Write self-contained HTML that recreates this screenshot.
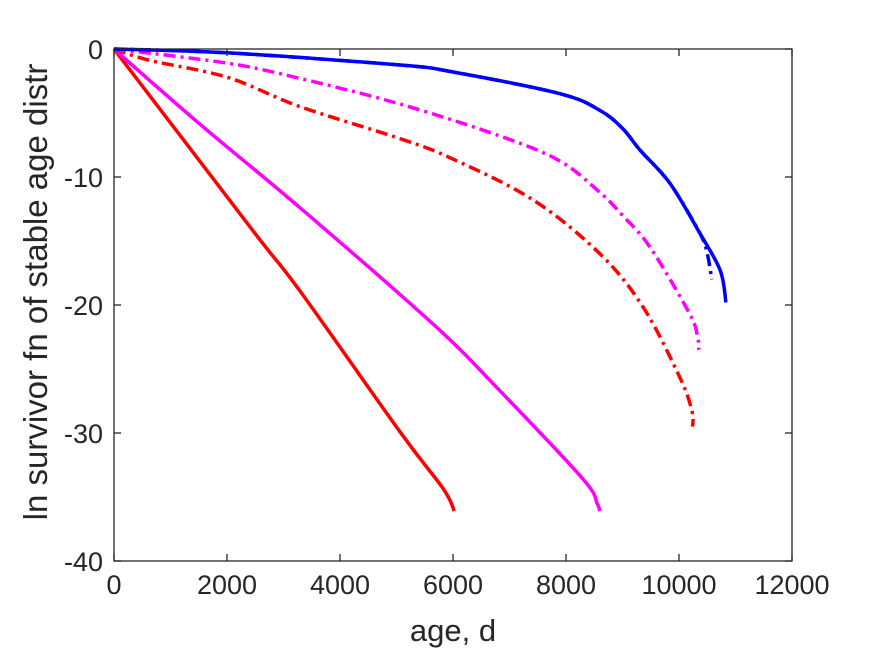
<!DOCTYPE html>
<html><head><meta charset="utf-8"><style>
body{margin:0;background:#fff;}
svg text{font-family:"Liberation Sans",Arial,sans-serif;fill:#262626;}
</style></head><body>
<svg id="chart" width="875" height="656" xmlns="http://www.w3.org/2000/svg">
<rect width="875" height="656" fill="#fff"/>
<g id="plot"></g>
<g id="axes"></g>
<text x="453" y="641" font-size="31" text-anchor="middle">age, d</text>
<text transform="translate(47,292) rotate(-90)" font-size="33" text-anchor="middle">ln survivor fn of stable age distr</text>
</svg>
<script>
const xTicks=[0,2000,4000,6000,8000,10000,12000];
const yTicks=[0,-10,-20,-30,-40];
const blueSolidX=[0,2000,5060,6000,7900,8600,9000,9310,9840,10370,10730,10830];
const blueSolidY=[0,-0.3,-1.25,-1.8,-3.5,-4.8,-6.2,-7.9,-10.5,-14.4,-17.3,-19.8];
const blueDashX=[0,2000,5060,6000,7900,8600,9000,9310,9840,10370,10500,10580];
const blueDashY=[0,-0.3,-1.25,-1.8,-3.5,-4.8,-6.2,-7.9,-10.5,-14.4,-16,-18];
const magDashX=[0,2000,3290,5060,6830,7890,8600,9000,9490,10190,10330,10350];
const magDashY=[0,-1.1,-2.3,-4.3,-6.8,-8.75,-11.2,-13,-15.5,-20.7,-22.5,-23.5];
const redDashX=[0,640,2000,3290,5060,6000,7420,8600,9370,10020,10230,10240];
const redDashY=[0,-0.9,-2.2,-4.5,-7.0,-8.6,-11.8,-16,-20.2,-25.7,-28.3,-29.5];
const magSolidX=[0,1500,3290,5650,6830,8300,8550,8600];
const magSolidY=[0,-5.8,-12.4,-21.5,-26.7,-33.6,-35.5,-36.1];
const redSolidX=[0,2460,3290,5060,5770,5950,6020];
const redSolidY=[0,-14.2,-18.9,-29.9,-34.0,-35.3,-36.1];

const L=114,R=792,T=49,B=561;
const sx=v=>L+(v-0)/12000*(R-L);
const sy=v=>T+(0-v)/40*(B-T);
const NS="http://www.w3.org/2000/svg";
const plot=document.getElementById('plot'),axes=document.getElementById('axes');
function mk(tag,attrs,parent){const e=document.createElementNS(NS,tag);for(const k in attrs)e.setAttribute(k,attrs[k]);parent.appendChild(e);return e;}
function smoothPath(xs,ys){
  const p=xs.map((x,i)=>[sx(x),sy(ys[i])]);
  let d='M'+p[0][0].toFixed(1)+','+p[0][1].toFixed(1);
  for(let i=0;i<p.length-1;i++){
    const p0=p[Math.max(0,i-1)],p1=p[i],p2=p[i+1],p3=p[Math.min(p.length-1,i+2)];
    const c1=[p1[0]+(p2[0]-p0[0])/6,p1[1]+(p2[1]-p0[1])/6];
    const c2=[p2[0]-(p3[0]-p1[0])/6,p2[1]-(p3[1]-p1[1])/6];
    d+=' C'+c1.map(v=>v.toFixed(1)).join(',')+' '+c2.map(v=>v.toFixed(1)).join(',')+' '+p2[0].toFixed(1)+','+p2[1].toFixed(1);
  }
  return d;
}
function series(xs,ys,color,dash,name){
  const p=mk('path',{d:smoothPath(xs,ys),fill:'none',stroke:color,'stroke-width':3.5,'stroke-linejoin':'round'},plot);
  if(dash)p.setAttribute('stroke-dasharray',dash);
  
  
}
series(redSolidX,redSolidY,'#ff0000',null,'red-solid-line');
series(magSolidX,magSolidY,'#ff00ff',null,'magenta-solid-line');
series(redDashX,redDashY,'#ff0000','12,5,3,5','red-dashdot-line');
series(magDashX,magDashY,'#ff00ff','12,5,3,5','magenta-dashdot-line');
series(blueDashX,blueDashY,'#0000ff','12,5,3,5','blue-dashdot-line');
series(blueSolidX,blueSolidY,'#0000ff',null,'blue-solid-line');
const box=mk('rect',{x:L,y:T,width:R-L,height:B-T,fill:'none',stroke:'#262626','stroke-width':1.3},axes);


xTicks.forEach(v=>{
  const x=sx(v);
  mk('line',{x1:x,x2:x,y1:B,y2:B-7,stroke:'#262626','stroke-width':1.3},axes);
  mk('line',{x1:x,x2:x,y1:T,y2:T+7,stroke:'#262626','stroke-width':1.3},axes);
  const t=mk('text',{x:x,y:B+33,'font-size':27,'text-anchor':'middle'},axes);
  t.textContent=v;
  
  
});
yTicks.forEach(v=>{
  const y=sy(v);
  mk('line',{x1:L,x2:L+7,y1:y,y2:y,stroke:'#262626','stroke-width':1.3},axes);
  mk('line',{x1:R,x2:R-7,y1:y,y2:y,stroke:'#262626','stroke-width':1.3},axes);
  const t=mk('text',{x:L-11,y:y+10,'font-size':27,'text-anchor':'end'},axes);
  t.textContent=v;
  
  
});
</script>
</body></html>
